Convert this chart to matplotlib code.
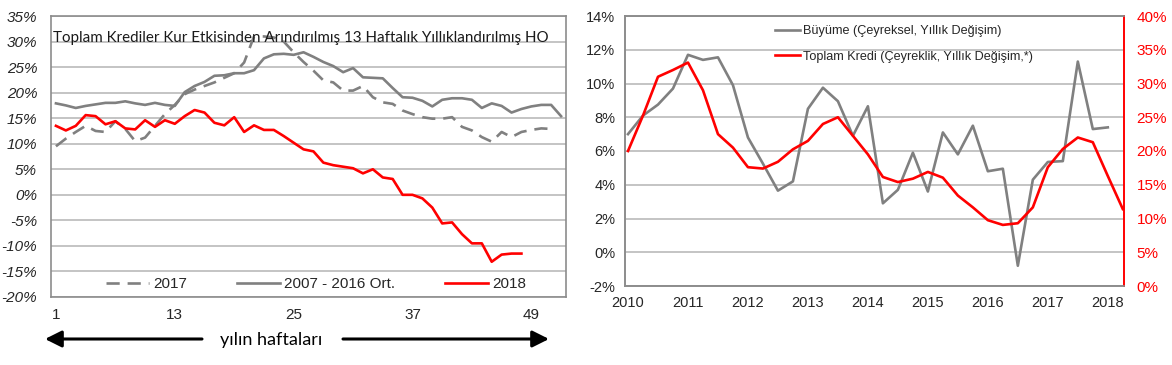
import numpy as np
import matplotlib
matplotlib.use("Agg")
import matplotlib.pyplot as plt
from matplotlib.ticker import FuncFormatter
from matplotlib.patches import FancyArrowPatch

# ---------------- data ----------------
weeks_2018 = list(range(1, 49))
weeks_2017 = list(range(1, 52))
weeks_avg = list(range(1, 53))

y2017 = [9.5, 11.0, 12.3, 13.5, 12.5, 12.3, 14.4, 12.9, 10.5, 11.2, 13.5, 15.8, 17.6,
         19.7, 20.6, 21.3, 22.0, 22.9, 23.8, 25.9, 31.0, 31.0, 30.8, 30.0, 27.9, 26.0,
         24.3, 22.4, 22.0, 20.4, 20.4, 21.3, 19.1, 18.1, 17.8, 16.5, 15.8, 15.2, 14.9,
         14.9, 15.2, 13.3, 12.6, 11.3, 10.4, 12.3, 11.3, 12.3, 12.7, 13.0, 12.9]
avg_0716 = [17.9, 17.5, 17.0, 17.4, 17.7, 18.0, 18.0, 18.3, 17.9, 17.6, 18.0, 17.6, 17.4,
            20.1, 21.3, 22.1, 23.3, 23.4, 23.8, 23.8, 24.4, 26.7, 27.5, 27.6, 27.4, 27.9,
            27.0, 26.0, 25.2, 24.0, 24.8, 23.0, 22.9, 22.8, 20.9, 19.1, 19.0, 18.4, 17.3,
            18.6, 18.9, 18.9, 18.6, 17.0, 17.9, 17.4, 16.1, 16.8, 17.3, 17.6, 17.6, 15.4]
y2018 = [13.5, 12.6, 13.5, 15.6, 15.4, 13.8, 14.4, 13.0, 12.8, 14.6, 13.3, 14.6, 13.9,
         15.4, 16.6, 16.1, 14.1, 13.6, 15.2, 12.3, 13.6, 12.7, 12.7, 11.5, 10.2, 8.9,
         8.5, 6.3, 5.8, 5.5, 5.2, 4.2, 5.0, 3.4, 3.1, 0.0, 0.0, -0.7, -2.5, -5.6, -5.4,
         -7.7, -9.5, -9.5, -13.1, -11.7, -11.5, -11.5]
left_xticks = [1, 13, 25, 37, 49]
left_title = "Toplam Krediler Kur Etkisinden Arındırılmış 13 Haftalık Yıllıklandırılmış HO"
left_legend = ["2017", "2007 - 2016 Ort.", "2018"]

start_year = 2010
growth = [7.0, 8.1, 8.75, 9.7, 11.7, 11.4, 11.55, 9.9, 6.8, 5.25, 3.65, 4.2,
          8.5, 9.75, 8.95, 6.9, 8.65, 2.9, 3.7, 5.9, 3.6, 7.1, 5.8, 7.5,
          4.8, 4.95, -0.8, 4.3, 5.35, 5.4, 11.3, 7.3, 7.4]
credit = [20.0, 25.25, 31.0, 32.0, 33.1, 29.0, 22.5, 20.5, 17.6, 17.4, 18.4, 20.25,
          21.5, 24.0, 25.0, 22.25, 19.5, 16.15, 15.4, 15.9, 16.9, 16.05, 13.4, 11.65,
          9.75, 9.05, 9.3, 11.65, 17.6, 20.3, 22.0, 21.3, 16.3, 11.4]
years = list(range(2010, 2019))
right_legend = ["Büyüme (Çeyreksel, Yıllık Değişim)", "Toplam Kredi (Çeyreklik, Yıllık Değişim,*)"]

# ---------------- style ----------------
GRAY = "#808080"
GRID = "#b4b4b4"
SPINE = "#8c8c8c"
RED = "#ff0000"
TXT = "#262626"
plt.rcParams['font.family'] = ['Liberation Sans', 'DejaVu Sans']

W, H = 1172, 365
fig = plt.figure(figsize=(W / 100, H / 100), dpi=100)

def box(l, t, r, b):
    return [l / W, 1 - b / H, (r - l) / W, (b - t) / H]

pct = FuncFormatter(lambda v, p: f"{v:.0f}%")

# ---------------- left chart ----------------
ax = fig.add_axes(box(51, 16, 566, 297))
ax.plot(weeks_2017, y2017, color=GRAY, lw=1.9, dashes=(5, 3), label=left_legend[0])
ax.plot(weeks_avg, avg_0716, color=GRAY, lw=1.9, label=left_legend[1])
ax.plot(weeks_2018, y2018, color=RED, lw=1.9, label=left_legend[2])
ax.set_xlim(0.5, 52.5)
ax.set_ylim(-20, 35)
ax.set_yticks(range(-20, 36, 5))
ax.yaxis.set_major_formatter(pct)
ax.set_xticks(left_xticks)
ax.grid(axis='y', color=GRID, lw=1.1)
ax.set_axisbelow(True)
for s in ax.spines.values():
    s.set_color(SPINE)
    s.set_linewidth(1.2)
ax.tick_params(axis='y', length=0, pad=10, labelsize=11, labelcolor=TXT)
ax.tick_params(axis='x', length=0, pad=8, labelsize=11, labelcolor=TXT)
for t in ax.get_yticklabels():
    t.set_fontstyle('italic')
ax.text(0.003, 0.948, left_title, transform=ax.transAxes, ha='left', va='top',
        fontsize=10.9, family=['Lato', 'DejaVu Sans'], color='#1a1a1a')
leg = ax.legend(loc='lower center', bbox_to_anchor=(0.515, -0.012), ncol=3, frameon=False,
                fontsize=11, handlelength=2.8, handletextpad=0.25, columnspacing=3.3,
                borderaxespad=0.2)
for t in leg.get_texts():
    t.set_color(TXT)

# arrows and label
fig.text(271 / W, 1 - 340 / H, "yılın haftaları", ha='center', va='center',
         fontsize=13, family=['Lato', 'DejaVu Sans'], color='black')
a1 = FancyArrowPatch((202 / W, 1 - 339 / H), (45 / W, 1 - 339 / H), transform=fig.transFigure,
                     arrowstyle='-|>,head_length=10,head_width=5', lw=2.2, color='black',
                     shrinkA=0, shrinkB=0)
a2 = FancyArrowPatch((343 / W, 1 - 339 / H), (549 / W, 1 - 339 / H), transform=fig.transFigure,
                     arrowstyle='-|>,head_length=10,head_width=5', lw=2.2, color='black',
                     shrinkA=0, shrinkB=0)
fig.patches.extend([a1, a2])

# ---------------- right chart ----------------
bx = fig.add_axes(box(625, 16, 1124, 286))
xq_g = start_year + np.arange(len(growth)) / 4
xq_c = start_year + np.arange(len(credit)) / 4
lg, = bx.plot(xq_g, growth, color=GRAY, lw=1.9)
bx.set_ylim(-2, 14)
bx.set_yticks(range(-2, 15, 2))
bx.yaxis.set_major_formatter(pct)
bx.set_xlim(2009.95, 2018.27)
bx.set_xticks(years)
bx.grid(axis='y', color=GRID, lw=1.1)
bx.set_axisbelow(True)
bx.tick_params(axis='y', length=0, pad=7, labelsize=10.5, labelcolor=TXT)
bx.tick_params(axis='x', length=0, pad=7, labelsize=10.5, labelcolor=TXT)

cx = bx.twinx()
lc, = cx.plot(xq_c, credit, color=RED, lw=1.9)
cx.set_ylim(0, 40)
cx.set_yticks(range(0, 41, 5))
cx.yaxis.set_major_formatter(pct)
cx.tick_params(axis='y', length=0, pad=9, labelsize=11, labelcolor=RED)
for a in (bx, cx):
    for s in a.spines.values():
        s.set_color(SPINE)
        s.set_linewidth(1.2)
cx.spines['right'].set_color(RED)
bx.spines['right'].set_color(RED)

leg2 = cx.legend([lg, lc], right_legend, loc='upper left', bbox_to_anchor=(0.285, 0.993),
                 frameon=False, fontsize=9.1, handlelength=2.0, handletextpad=0.2,
                 labelspacing=1.05, borderaxespad=0.2)
for t in leg2.get_texts():
    t.set_color(TXT)

fig.savefig("out.png", dpi=100)
